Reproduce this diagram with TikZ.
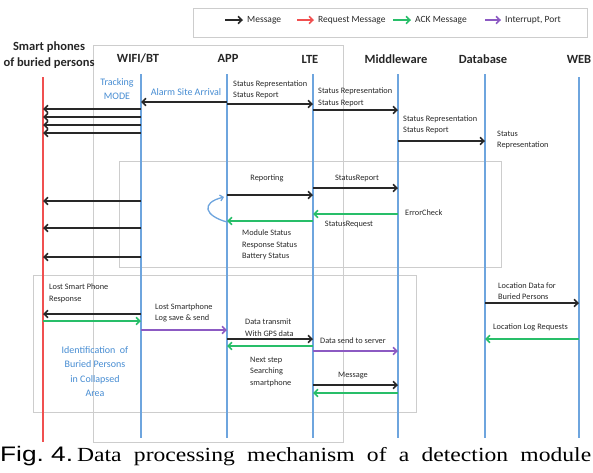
\documentclass[tikz,border=0pt]{standalone}
\usepackage{fontspec}
\setmainfont{Carlito}
\newfontfamily\capserif[FakeStretch=1.18]{Liberation Serif}
\newfontfamily\capsans[FakeStretch=1.25]{Liberation Sans}
\usetikzlibrary{arrows.meta}
\definecolor{lifeblue}{RGB}{110,165,222}
\definecolor{reqred}{RGB}{240,80,80}
\definecolor{ackgreen}{RGB}{40,190,105}
\definecolor{intpurple}{RGB}{140,90,195}
\definecolor{msgblack}{RGB}{40,40,40}
\definecolor{framegray}{RGB}{205,205,205}
\definecolor{labelgray}{RGB}{40,40,40}
\definecolor{textblue}{RGB}{70,140,210}
\newcommand\sqmsg[4]{\draw[#1] (#2 |- 0,#4) -- (#3 |- 0,#4);}
\begin{document}
\begin{tikzpicture}[x=1pt,y=-1pt,
  msgline/.style={line width=1.6pt, -{Straight Barb[length=3.8pt,width=7.5pt]}},
  blk/.style={msgline, draw=msgblack},
  grn/.style={msgline, draw=ackgreen},
  prp/.style={msgline, draw=intpurple},
  rd/.style={msgline, draw=reqred},
  life/.style={line width=1.6pt, draw=lifeblue},
  frame/.style={draw=framegray, line width=0.8pt},
  lbl/.style={font=\fontsize{8.3}{11.5}\selectfont, text=labelgray, inner sep=0pt, align=left},
  leg/.style={font=\fontsize{9.5}{11}\selectfont, text=labelgray, inner sep=0pt, anchor=west},
  blbl/.style={font=\fontsize{10}{14.3}\selectfont, text=textblue, inner sep=0pt, align=center},
  hdr/.style={font=\bfseries\fontsize{12.5}{16}\selectfont, text=black!85, inner sep=0pt, align=center},
]
\useasboundingbox (0,0) rectangle (593,472);

% frames
\draw[frame] (193,8) rectangle (587,37);
\draw[frame] (93,45) rectangle (343,442);
\draw[frame] (119,161) rectangle (501,267);
\draw[frame] (33,275) rectangle (416,412);

% legend
\node[leg] (lgm) at (247,20) {Message};
\node[leg] (lgr) at (318,20) {Request Message};
\node[leg] (lga) at (415,20) {ACK Message};
\node[leg] (lgi) at (505,20) {Interrupt, Port};
\draw[blk] ([xshift=-22pt]lgm.west) -- ([xshift=-4pt]lgm.west);
\draw[rd] ([xshift=-21pt]lgr.west) -- ([xshift=-4pt]lgr.west);
\draw[grn] ([xshift=-22pt]lga.west) -- ([xshift=-4pt]lga.west);
\draw[prp] ([xshift=-20pt]lgi.west) -- ([xshift=-4pt]lgi.west);

% headers
\node[hdr] (hph) at (49,55) {Smart phones\\of buried persons};
\node[hdr] (hwifi) at (138,58) {WIFI/BT};
\node[hdr] (happ) at (228,58) {APP};
\node[hdr] (hlte) at (310,59) {LTE};
\node[hdr] (hmw) at (396,59) {Middleware};
\node[hdr] (hdb) at (483,59) {Database};
\node[hdr] (hweb) at (579,59) {WEB};

% lifelines
\coordinate (ph) at (43,77);   \coordinate (phb) at (43,442);
\coordinate (wifi) at (141,74); \coordinate (wifib) at (141,438);
\coordinate (app) at (227,74);  \coordinate (appb) at (227,438);
\coordinate (lte) at (313,74);  \coordinate (lteb) at (313,438);
\coordinate (mw) at (398,74);   \coordinate (mwb) at (398,438);
\coordinate (db) at (485,74);   \coordinate (dbb) at (485,438);
\coordinate (web) at (579,77);  \coordinate (webb) at (579,438);
\draw[life, draw=reqred] (ph) -- (phb);
\draw[life] (wifi) -- (wifib);
\draw[life] (app) -- (appb);
\draw[life] (lte) -- (lteb);
\draw[life] (mw) -- (mwb);
\draw[life] (db) -- (dbb);
\draw[life] (web) -- (webb);

% top section
\sqmsg{blk}{app}{wifi}{102}
\sqmsg{blk}{app}{lte}{104}
\sqmsg{blk}{lte}{mw}{110}
\sqmsg{blk}{mw}{db}{141}
\sqmsg{blk}{wifi}{ph}{109}
\sqmsg{blk}{wifi}{ph}{117}
\sqmsg{blk}{wifi}{ph}{125}
\sqmsg{blk}{wifi}{ph}{133}

\node[blbl] (trk) at (117,89) {Tracking\\MODE};
\node[blbl] (alarm) at (186,92) {Alarm Site Arrival};
\node[lbl, anchor=west] (sr1) at (233,90) {Status Representation\\Status Report};
\node[lbl, anchor=west] (sr2) at (318,97.5) {Status Representation\\Status Report};
\node[lbl, anchor=west] (sr3) at (403,125) {Status Representation\\Status Report};
\node[lbl, anchor=west] (sr4) at (497,140) {Status\\Representation};

% middle section
\sqmsg{blk}{app}{lte}{195}
\sqmsg{grn}{lte}{app}{221}
\sqmsg{blk}{lte}{mw}{188}
\sqmsg{grn}{mw}{lte}{214}
\sqmsg{blk}{wifi}{ph}{201}
\sqmsg{blk}{wifi}{ph}{228}
\sqmsg{blk}{wifi}{ph}{257}
\draw[line width=1.3pt, draw=lifeblue, -{Straight Barb[length=3pt,width=6pt]}]
  (app |- 0,222) .. controls (205,216) and (200,203) .. (224,197);

\node[lbl] (rep) at (267,178) {Reporting};
\node[lbl, anchor=west] (mod) at (242,245) {Module Status\\Response Status\\Battery Status};
\node[lbl] (strep) at (357,178) {StatusReport};
\node[lbl, anchor=west] (err) at (405,213) {ErrorCheck};
\node[lbl] (streq) at (349,224) {StatusRequest};

% bottom section
\sqmsg{blk}{wifi}{ph}{314}
\sqmsg{grn}{ph}{wifi}{321}
\sqmsg{prp}{wifi}{app}{330}
\sqmsg{blk}{app}{lte}{339}
\sqmsg{grn}{lte}{app}{346}
\sqmsg{prp}{lte}{mw}{351}
\sqmsg{blk}{lte}{mw}{385}
\sqmsg{grn}{mw}{lte}{393}
\sqmsg{blk}{db}{web}{303}
\sqmsg{grn}{web}{db}{339}

\node[lbl, anchor=west] (lost) at (49,293.5) {Lost Smart Phone\\Response};
\node[lbl, anchor=west] (lost2) at (155,313) {Lost Smartphone\\Log save \& send};
\node[lbl, anchor=west] (dt) at (245,327.5) {Data transmit\\With GPS data};
\node[lbl, anchor=west] (ns) at (250,371.5) {Next step\\Searching\\smartphone};
\node[blbl] (ident) at (95,371.5) {Identification~ of\\Buried Persons\\in Collapsed\\Area};
\node[lbl, anchor=west] (dss) at (320,341) {Data send to server};
\node[lbl] (msgl) at (353,376) {Message};
\node[lbl, anchor=west] (ld) at (498,291) {Location Data for\\Buried Persons};
\node[lbl, anchor=west] (llr) at (493,327) {Location Log Requests};

% caption
\node[anchor=base west, inner sep=0pt] (cap) at (0,461)
  {\hbox to 591pt{\capsans\fontsize{21}{24}\selectfont Fig.\ 4.\hskip 4pt\capserif\fontsize{20}{24}\selectfont Data\hfil processing\hfil mechanism\hfil of\hfil a\hfil detection\hfil module}};
\end{tikzpicture}
\end{document}
